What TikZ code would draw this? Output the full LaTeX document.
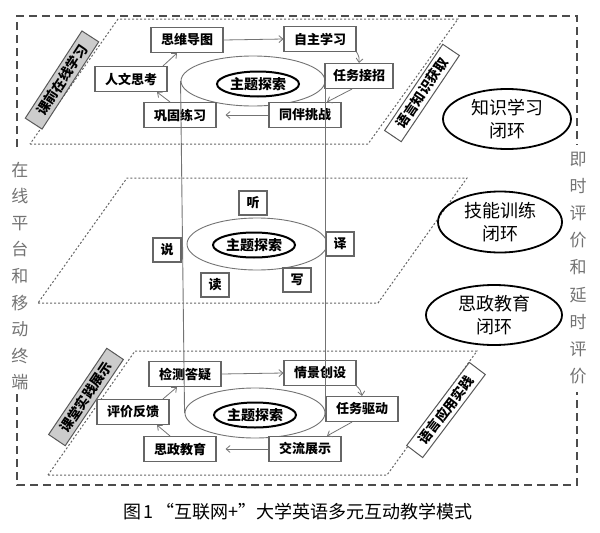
\documentclass[tikz,border=0pt]{standalone}
\usepackage{fontspec}
\setmainfont{Liberation Serif}
\newfontfamily\cjk{Noto Sans CJK SC}
\usetikzlibrary{shapes.geometric,arrows.meta}
\begin{document}
\begin{tikzpicture}[x=1pt,y=-1pt,
  box/.style={draw=black!60,line width=1.1pt,fill=white,inner sep=0pt,
    minimum width=72pt,minimum height=25pt,font=\cjk\bfseries\fontsize{13}{15}\selectfont},
  sbox/.style={box,minimum width=28pt,minimum height=24pt},
  cyl/.style={draw=black!55,line width=0.9pt},
  cylell/.style={ellipse,draw=black!55,line width=0.9pt,inner sep=0pt},
  theme/.style={ellipse,draw=black,line width=2pt,inner sep=0pt,minimum width=82pt,minimum height=25pt,
    font=\cjk\bfseries\fontsize{14}{16}\selectfont},
  loop/.style={ellipse,draw=black,line width=1.8pt,inner sep=0pt,align=center,
    font=\cjk\fontsize{18}{23}\selectfont},
  lab/.style={draw=black!65,line width=1pt,inner sep=0pt,minimum width=104pt,minimum height=20pt,
    font=\cjk\bfseries\fontsize{13.5}{15}\selectfont},
  arr/.style={draw=black!55,line width=0.8pt,-{Straight Barb[length=4pt,width=7pt]}},
  para/.style={draw=black!60,line width=1pt,dash pattern=on 2pt off 2pt},
  frame/.style={draw=black!70,line width=1.6pt,dash pattern=on 8pt off 5pt},
  side/.style={align=center,text=black!55,font=\cjk\fontsize{17}{26.6}\selectfont}
]
\useasboundingbox (0,0) rectangle (600,533);
% outer frame
\draw[frame] (17,147) -- (17,16) -- (577,16) -- (577,145);
\draw[frame] (17,394) -- (17,485) -- (577,485) -- (577,392);
\node[side] (lt) at (20,276) {在\\线\\平\\台\\和\\移\\动\\终\\端};
\node[side,font=\cjk\fontsize{17}{27.1}\selectfont] (rt) at (578,268) {即\\时\\评\\价\\和\\延\\时\\评\\价};
% parallelograms
\draw[para] (30,144) -- (368,144) -- (458,19) -- (118,19) -- cycle;
\draw[para] (38,303) -- (378,303) -- (467,178) -- (127,178) -- cycle;
\draw[para] (48,475) -- (387,475) -- (477,351) -- (135,351) -- cycle;
% slanted labels
\node[lab,rotate=57,fill=gray!40] (l1) at (62,80) {课前在线学习};
\node[lab,rotate=56,fill=white] (l2) at (422,93) {语言知识获取};
\node[lab,rotate=56,fill=gray!40] (l3) at (86,397) {课堂实践展示};
\node[lab,rotate=53,fill=white] (l4) at (446,410) {语言应用实践};
% cylinder ellipses
\node[cylell,minimum width=144pt,minimum height=50pt] (e1) at (253,81) {};
\node[cylell,minimum width=140pt,minimum height=52pt] (e2) at (257,244) {};
\node[cylell,minimum width=140pt,minimum height=50pt] (e3) at (255,413) {};
\node[theme] (t1) at (258,84) {主题探索};
\node[theme] (t2) at (254,245) {主题探索};
\node[theme] (t3) at (255,415) {主题探索};
% top layer boxes
\node[box] (a1) at (187,40) {思维导图};
\node[box] (a2) at (320,39) {自主学习};
\node[box,minimum width=68pt] (a3) at (359,76) {任务接招};
\node[box] (a4) at (305,115) {同伴挑战};
\node[box] (a5) at (180,115) {巩固练习};
\node[box] (a6) at (131,79) {人文思考};
% middle layer boxes
\node[sbox] (m1) at (253,203) {听};
\node[sbox] (m2) at (167,250) {说};
\node[sbox] (m3) at (215,285) {读};
\node[sbox] (m4) at (297,280) {写};
\node[sbox] (m5) at (340,244) {译};
% bottom layer boxes
\node[box] (b1) at (185,374) {检测答疑};
\node[box] (b2) at (320,373) {情景创设};
\node[box] (b3) at (362,409) {任务驱动};
\node[box] (b4) at (305,449) {交流展示};
\node[box] (b5) at (180,449) {思政教育};
\node[box] (b6) at (133,412) {评价反馈};
% cylinder sides
\draw[cyl] (e1.west) -- (e3.west);
\draw[cyl] (e1.east) -- (e3.east);
% top arrows
\draw[arr] (a1.east) -- (a2.west);
\draw[arr] (a2.south east) to[bend left=20] (a3.north);
\draw[arr] ([xshift=-7pt]a3.south) -- ([xshift=22pt]a4.north);
\draw[arr,shorten >=9pt] (a4.west) -- (a5.east);
\draw[arr] ([xshift=-10pt]a5.north) -- ([xshift=26pt]a6.south);
\draw[arr] ([xshift=32pt]a6.north) -- ([xshift=-10pt]a1.south);
% bottom arrows
\draw[arr] (b1.east) -- (b2.west);
\draw[arr] (b2.south east) to[bend left=20] (b3.north);
\draw[arr] ([xshift=-10pt]b3.south) -- ([xshift=22pt]b4.north);
\draw[arr,shorten >=9pt] (b4.west) -- (b5.east);
\draw[arr] ([xshift=-10pt]b5.north) -- ([xshift=24pt]b6.south);
\draw[arr] ([xshift=30pt]b6.north) -- ([xshift=-8pt]b1.south);
% loops
\node[loop,minimum width=128pt,minimum height=60pt] (k1) at (507,119) {知识学习\\闭环};
\node[loop,minimum width=124pt,minimum height=61pt] (k2) at (500,222) {技能训练\\闭环};
\node[loop,minimum width=136pt,minimum height=60pt] (k3) at (494,315) {思政教育\\闭环};
% caption
\node[font=\cjk\fontsize{18}{20}\selectfont] (cap) at (298,512) {图\,1\,“互联网+”大学英语多元互动教学模式};
\end{tikzpicture}
\end{document}
